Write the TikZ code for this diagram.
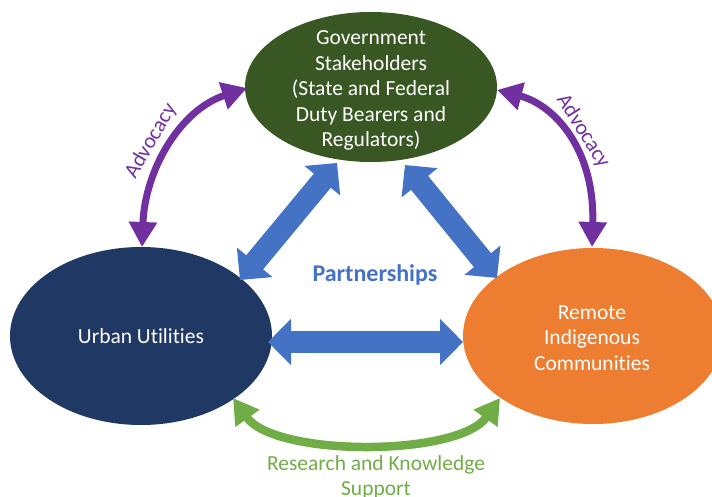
\documentclass[tikz,border=0pt]{standalone}
\usepackage{fontspec}
\setmainfont{Carlito}[Ligatures=NoCommon]
\usetikzlibrary{shapes.geometric,arrows.meta}
\definecolor{govgreen}{HTML}{385723}
\definecolor{navy}{HTML}{1F3864}
\definecolor{orng}{HTML}{ED7D31}
\definecolor{pblue}{HTML}{4472C4}
\definecolor{purp}{HTML}{7030A0}
\definecolor{rgreen}{HTML}{70AD47}
\begin{document}
\begin{tikzpicture}[x=1pt,y=1pt,
  party/.style={ellipse, inner sep=0pt},
  partytext/.style={text=white, align=center,
    font=\fontsize{21.5}{25.5}\selectfont},
  blockarrow/.style={pblue, line width=22pt,
    {Triangle[length=23pt,width=45pt]}-{Triangle[length=23pt,width=45pt]}},
  advocacy/.style={purp, line width=7pt,
    {Triangle[length=25pt,width=27pt]}-{Triangle[length=25pt,width=27pt]}},
  support/.style={rgreen, line width=8.5pt,
    {Triangle[length=25pt,width=28pt]}-{Triangle[length=25pt,width=28pt]}},
  lbl/.style={font=\fontsize{21.5}{25}\selectfont, align=center}]
\useasboundingbox (0,0) rectangle (712,-497);
\clip (0,0) rectangle (712,-497);

% stakeholder groups
\node[party, fill=govgreen, minimum width=252pt, minimum height=150pt,
  label={[partytext, yshift=-3.5pt]center:{Government\\Stakeholders\\(State and Federal\\Duty Bearers and\\Regulators)}}]
  (gov) at (371,-87) {};
\node[party, fill=navy, minimum width=262pt, minimum height=178pt, partytext]
  (urban) at (141,-336) {Urban Utilities};
\node[party, fill=orng, minimum width=260pt, minimum height=176pt,
  label={[partytext, yshift=-2pt, xshift=-1pt]center:{Remote\\Indigenous\\Communities}}]
  (remote) at (593,-336) {};

% arrow end points
\coordinate (gl) at (337,-163);
\coordinate (ul) at (240,-280);
\coordinate (gr) at (405,-165);
\coordinate (rr) at (497,-278);
\coordinate (uh) at (268,-342);
\coordinate (rh) at (463,-342);
\coordinate (ua) at (142,-247);
\coordinate (ga) at (247,-88);
\coordinate (gb) at (497,-90);
\coordinate (ra) at (592,-247);
\coordinate (us) at (233,-398);
\coordinate (rs) at (500,-398);

% partnerships
\draw[blockarrow] (ul) -- (gl);
\draw[blockarrow] (gr) -- (rr);
\draw[blockarrow] (uh) -- (rh);
\node[lbl, text=pblue, font=\fontsize{24}{27}\selectfont\bfseries] (part) at (375,-275) {Partnerships};

% advocacy
\draw[advocacy] (ua) .. controls (145,-170) and (180,-110) .. (ga);
\draw[advocacy] (gb) .. controls (555,-105) and (595,-150) .. (ra);
\node[lbl, text=purp, rotate=60, inner sep=0pt] (advl) at (151,-141) {Advocacy};
\node[lbl, text=purp, rotate=-58, inner sep=0pt] (advr) at (583,-131) {Advocacy};

% research and knowledge support
\draw[support] (us) .. controls (275,-457) and (458,-457) .. (rs);
\node[lbl, text=rgreen] (res) at (376,-477) {Research and Knowledge\\Support};
\end{tikzpicture}
\end{document}
